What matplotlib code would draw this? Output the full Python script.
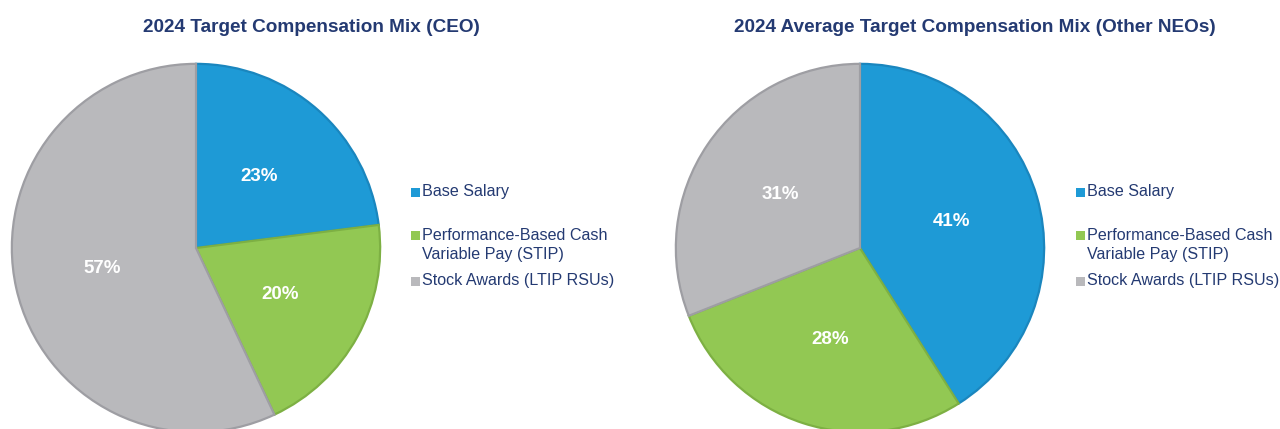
import matplotlib
matplotlib.use("Agg")
import matplotlib.pyplot as plt
from matplotlib.patches import Rectangle

plt.rcParams["font.family"] = ["Liberation Sans", "DejaVu Sans"]

## Data ##
categories = ["Base Salary", "Performance-Based Cash\nVariable Pay (STIP)", "Stock Awards (LTIP RSUs)"]
ceo_mix = [23, 20, 57]
neo_mix = [41, 28, 31]
titles = ["2024 Target Compensation Mix (CEO)",
          "2024 Average Target Compensation Mix (Other NEOs)"]

fill_colors = ["#1E9AD6", "#92C853", "#B9B9BC"]
edge_colors = ["#1A86BE", "#7DB043", "#9E9EA3"]
navy = "#243A72"

W, H = 1280, 429
fig = plt.figure(figsize=(W / 100, H / 100), dpi=100)


def px_axes(left, top, size):
    # axes placed in pixel coords (top measured from image top)
    return fig.add_axes([left / W, (H - top - size) / H, size / W, size / H])


def draw_pie(values, cx, cy, r, legend_x, title, title_x):
    ax = px_axes(cx - r, cy - r, 2 * r)
    wedges, _, autotexts = ax.pie(
        values, colors=fill_colors, startangle=90, counterclock=False,
        autopct="%d%%", pctdistance=0.52, radius=1,
        wedgeprops=dict(linewidth=1.6),
        textprops=dict(color="white", fontsize=13.5, fontweight="bold"),
    )
    for w, ec in zip(wedges, edge_colors):
        w.set_edgecolor(ec)
    ax.set_xlim(-1.01, 1.01)
    ax.set_ylim(-1.01, 1.01)
    ax.set_aspect("equal")
    ax.axis("off")

    fig.text(title_x / W, 1 - 27 / H, title, ha="center", va="center",
             fontsize=13.7, fontweight="bold", color=navy)

    # legend: square marker + label, first-line centres in pixels
    rows = [192, 236, 281]
    for lab, col, y in zip(categories, fill_colors, rows):
        fig.patches.append(Rectangle(((legend_x) / W, 1 - (y + 4.5) / H), 9 / W, 9 / H,
                                     transform=fig.transFigure, facecolor=col,
                                     edgecolor="none"))
        fig.text((legend_x + 11) / W, 1 - (y - 8) / H, lab, ha="left", va="top",
                 fontsize=11.6, color=navy, linespacing=1.33)


draw_pie(ceo_mix, 196, 248, 186, 411, titles[0], 311)
draw_pie(neo_mix, 860, 248, 186, 1076, titles[1], 975)

fig.savefig("out.png", dpi=100)
